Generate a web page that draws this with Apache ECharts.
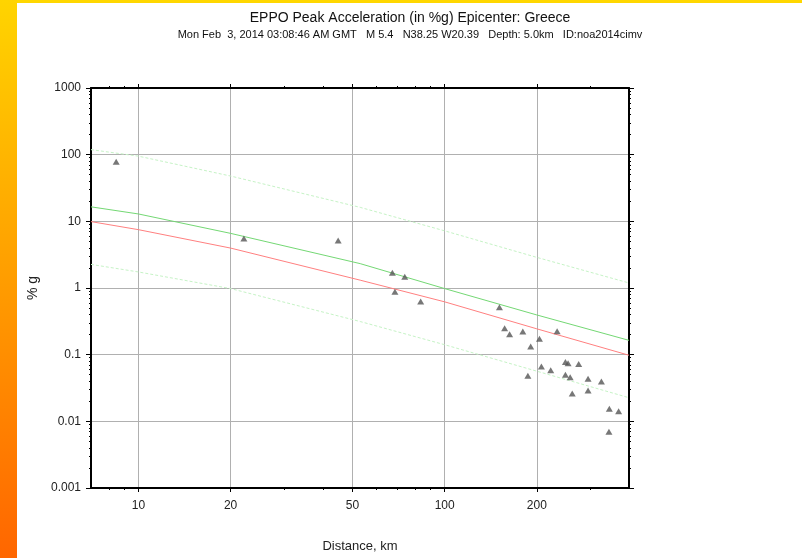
<!DOCTYPE html>
<html>
<head>
<meta charset="utf-8">
<script src="https://cdn.jsdelivr.net/npm/echarts@6/dist/echarts.min.js"></script>
<style>html,body{margin:0;padding:0;background:#fff;}#c{width:802px;height:558px;}</style>
</head>
<body>
<div id="c"></div>
<script>
// Station observations: distance (km) and peak acceleration (%g)
var stationDist = [8.46, 22.1, 44.9, 67.5, 74.1, 68.8, 83.5, 151, 157, 163, 180, 191, 204, 233, 207, 222, 187, 248, 253, 274, 248, 257, 261, 294, 294, 325, 345, 370, 344];
var stationPga  = [78.4, 5.52, 5.15, 1.70, 1.47, 0.878, 0.63, 0.513, 0.249, 0.203, 0.223, 0.133, 0.173, 0.225, 0.0662, 0.0585, 0.0482, 0.0778, 0.0745, 0.0727, 0.0498, 0.046, 0.0262, 0.0434, 0.0291, 0.0396, 0.0154, 0.0142, 0.0070];

// Attenuation curves sampled at these distances (km)
var curveDist  = [7, 10, 20, 53, 100, 200, 400];
var curveUpper = [119, 95, 47.8, 16.2, 7.2, 2.88, 1.19];
var curvePlus  = [16.5, 12.9, 6.6, 2.32, 0.98, 0.394, 0.164];
var curveMed   = [9.9, 7.5, 3.97, 1.31, 0.62, 0.244, 0.098];
var curveLower = [2.26, 1.74, 0.98, 0.314, 0.141, 0.0565, 0.0226];

// Axis ticks
var xMajorTicks = [10, 20, 50, 100, 200];
var xMinorTicks = [8, 9, 30, 40, 60, 70, 80, 90, 300];
var yMajorTicks = [0.001, 0.01, 0.1, 1, 10, 100, 1000];
var yTickLabels = ['0.001', '0.01', '0.1', '1', '10', '100', '1000'];
var yMinorMult = [2, 3, 4, 5, 6, 7, 8, 9];
var xRange = [7, 400];
var yRange = [0.001, 1000];

var L = Math.log10;
var yMinorTicks = [];
yMajorTicks.slice(0, -1).forEach(function (d) { yMinorMult.forEach(function (m) { yMinorTicks.push(L(d * m)); }); });

function curve(vals) { return curveDist.map(function (d, i) { return [L(d), L(vals[i])]; }); }
var pts = stationDist.map(function (d, i) { return [L(d), L(stationPga[i])]; });

var font = 'Liberation Sans, Arial, Helvetica, sans-serif';
var frame = {show: true, onZero: false, lineStyle: {color: '#000', width: 2}};
var noLine = {show: false, onZero: false};

function xAx(pos, major, showLine) {
  return {
    type: 'value', position: pos, min: L(xRange[0]), max: L(xRange[1]),
    axisLine: showLine ? frame : noLine,
    axisTick: {show: true, inside: false, length: major ? 4 : 2, lineStyle: {color: '#000', width: 1},
      customValues: (major ? xMajorTicks : xMinorTicks).map(L)},
    axisLabel: (pos === 'bottom' && major) ? {show: true, customValues: xMajorTicks.map(L), color: '#222', fontSize: 12, fontFamily: font, margin: 12,
      formatter: function (v) { return String(Math.round(Math.pow(10, v))); }} : {show: false},
    splitLine: (pos === 'bottom' && major) ? {show: true, lineStyle: {color: '#b0b0b0', width: 1}} : {show: false},
    name: (pos === 'bottom' && major) ? 'Distance, km' : '',
    nameLocation: 'middle', nameGap: 52,
    nameTextStyle: {color: '#222', fontSize: 13, fontFamily: font}
  };
}
function yAx(pos, major, showLine) {
  return {
    type: 'value', position: pos, min: L(yRange[0]), max: L(yRange[1]), interval: 1,
    axisLine: showLine ? frame : noLine,
    axisTick: {show: true, inside: false, length: major ? 5 : 2, lineStyle: {color: '#000', width: 1},
      customValues: major ? yMajorTicks.map(L) : yMinorTicks},
    axisLabel: (pos === 'left' && major) ? {show: true, color: '#222', fontSize: 12, fontFamily: font, margin: 10,
      formatter: function (v) { return yTickLabels[Math.round(v) + 3]; }} : {show: false},
    splitLine: (pos === 'left' && major) ? {show: true, lineStyle: {color: '#b0b0b0', width: 1}} : {show: false},
    name: (pos === 'left' && major) ? '% g' : '',
    nameLocation: 'middle', nameGap: 51,
    nameTextStyle: {color: '#222', fontSize: 14, fontFamily: font}
  };
}

function lineSeries(name, vals, color, dashed) {
  return {
    type: 'line', name: name, data: curve(vals), xAxisIndex: 0, yAxisIndex: 0,
    showSymbol: false, symbol: 'none', silent: true, z: 3,
    lineStyle: {color: color, width: 1, type: dashed ? [3, 2] : 'solid'}
  };
}

var chart = echarts.init(document.getElementById('c'), null, {renderer: 'canvas'});
chart.setOption({
  animation: false,
  backgroundColor: '#ffffff',
  title: [
    {text: 'EPPO Peak Acceleration (in %g) Epicenter: Greece', left: 405, textAlign: 'center', top: 6,
      textStyle: {fontSize: 14, fontWeight: 'normal', color: '#111', fontFamily: font}},
    {text: 'Mon Feb  3, 2014 03:08:46 AM GMT   M 5.4   N38.25 W20.39   Depth: 5.0km   ID:noa2014cimv', left: 405, textAlign: 'center', top: 24,
      textStyle: {fontSize: 11, fontWeight: 'normal', color: '#111', fontFamily: font}}
  ],
  graphic: [
    {type: 'rect', left: 0, top: 0, shape: {width: 802, height: 3}, style: {fill: '#FFD700'}, z: 100},
    {type: 'rect', left: 0, top: 0, shape: {width: 17, height: 558},
      style: {fill: new echarts.graphic.LinearGradient(0, 0, 0, 1, [{offset: 0, color: '#FFD400'}, {offset: 1, color: '#FF6600'}])}, z: 100}
  ],
  grid: {left: 91, right: 173, top: 88, bottom: 67, containLabel: false},
  xAxis: [xAx('bottom', true, true), xAx('bottom', false, false), xAx('top', true, true), xAx('top', false, false)],
  yAxis: [yAx('left', true, true), yAx('left', false, false), yAx('right', true, true), yAx('right', false, false)],
  series: [
    lineSeries('upper', curveUpper, '#c6f3c6', true),
    lineSeries('lower', curveLower, '#c6f3c6', true),
    lineSeries('plus', curvePlus, '#74d874', false),
    lineSeries('median', curveMed, '#ff8080', false),
    {type: 'scatter', name: 'stations', data: pts, xAxisIndex: 0, yAxisIndex: 0, symbol: 'triangle', symbolSize: [7, 6],
      itemStyle: {color: '#555555'}, z: 5}
  ]
});
</script>
</body>
</html>
